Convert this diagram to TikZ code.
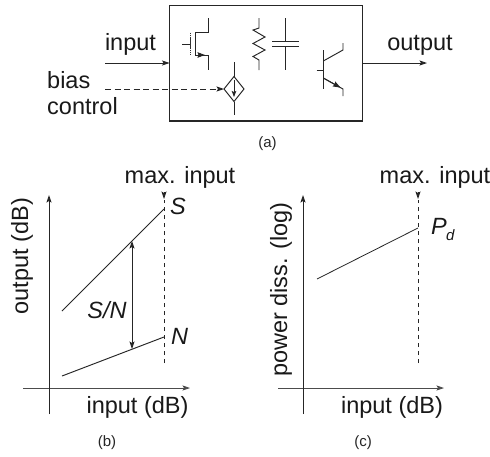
\documentclass[tikz,border=0pt]{standalone}
\usepackage{fontspec}
\setmainfont{Liberation Sans}
\usetikzlibrary{arrows.meta,shapes.geometric}
\tikzset{
  wire/.style={line width=0.95pt,draw=black!85},
  thin wire/.style={line width=0.8pt,draw=black!85},
  tip/.tip={Stealth[length=7.5pt,width=5pt,inset=1.5pt]},
  arr/.style={wire,-tip},
  xaxis/.style={line width=0.8pt,draw=black!70,-tip},
  dashwire/.style={line width=0.95pt,draw=black!85,dash pattern=on 4.5pt off 3.5pt},
  lab/.style={inner sep=0pt,anchor=base,font=\fontsize{23.5}{26}\selectfont,text=black!90},
  sublab/.style={inner sep=0pt,anchor=base,font=\fontsize{15}{17}\selectfont,text=black!85},
}
\begin{document}
\begin{tikzpicture}[x=1pt,y=-1pt]
\useasboundingbox (0,0) rectangle (490,456);
\fill[white] (0,0) rectangle (490,456);
% (a) block
\node[draw=black!85,line width=1.1pt,minimum width=192.5pt,minimum height=115.5pt,inner sep=0pt,outer sep=0pt] (block) at (265.8,63.2) {};
\coordinate (inS) at (105,63);
\coordinate (inE) at (block.west |- inS);
\coordinate (outS) at (block.east |- inS);
\coordinate (outE) at (427,63);
\draw[arr] (inS) -- (inE);
\draw[arr] (outS) -- (outE);
\node[lab] (linput) at (130.5,50) {input};
\node[lab] (loutput) at (420,50) {output};
\node[lab,anchor=base west] (lbias) at (47,88) {bias};
\node[lab,anchor=base west] (lcontrol) at (47,114) {control};
% controlled source
\node[draw=black!85,line width=0.95pt,shape=diamond,minimum width=20pt,minimum height=25pt,inner sep=0pt,outer sep=0pt,aspect=0.8] (src) at (234,89) {};
\coordinate (bS) at (105,89);
\draw[wire,dash pattern=on 6pt off 3.5pt,-tip] (bS) -- (src.west);
\coordinate (srcT) at (234,62);
\coordinate (srcB) at (234,115);
\draw[wire] (srcT) -- (src.north);
\draw[wire] (src.south) -- (srcB);
\draw[thin wire,-{Stealth[length=6pt,width=4.5pt,inset=1pt]}] (234,80) -- (234,97);
% MOSFET
\draw[wire] (182,44) -- (190.7,44);
\draw[line width=0.9pt,draw=black!80,dash pattern=on 1.5pt off .4pt] (190.7,32.7) -- (190.7,55);
\draw[wire] (208,18) -- (208,32.7) -- (195,32.7) -- (195,55) -- (208,55) -- (208,70);
\draw[wire,-{Stealth[length=7.5pt,width=5.5pt,inset=1pt]}] (195,55) -- (205,55);
% Resistor
\draw[wire,line join=miter] (259,18) -- (259,28) -- (253,30) -- (265,37) -- (253,43.5) -- (265,50) -- (253,56.5) -- (259,60) -- (259,70);
% Capacitor
\draw[wire] (285,18) -- (285,41.7);
\draw[wire] (272,41.7) -- (298.5,41.7);
\draw[wire] (272,46.3) -- (298.5,46.3);
\draw[wire] (285,46.3) -- (285,70);
% BJT
\draw[wire] (323.3,50) -- (323.3,89);
\draw[wire] (316.5,70) -- (323.3,70);
\draw[wire] (323.3,61) -- (343,50) -- (343,43);
\draw[wire] (323.3,78) -- (343,89) -- (343,96);
\draw[wire,-{Stealth[length=7.5pt,width=5.5pt,inset=1pt]}] (323.3,78) -- (340.5,87.6);
\node[sublab] (capa) at (267.5,147) {(a)};
% (b) plot
\coordinate (bxL) at (23,388); \coordinate (bxR) at (190,388);
\coordinate (byB) at (49,414); \coordinate (byT) at (49,195);
\draw[xaxis] (bxL) -- (bxR);
\draw[arr] (byB) -- (byT);
\coordinate (bdB) at (164,363); \coordinate (bdT) at (164,192);
\draw[dashwire] (bdB) -- (164,200);
\draw[wire,-tip] (bdT) -- (164,199);
\coordinate (sA) at (62,311); \coordinate (sB) at (164,209);
\coordinate (nA) at (62,376); \coordinate (nB) at (164,337);
\draw[thin wire] (sA) -- (sB);
\draw[wire] (nA) -- (nB);
\coordinate (snT) at (132,241); \coordinate (snB) at (132,349);
\draw[wire,tip-tip] (snT) -- (snB);
\node[lab] (bmax) at (180,183) {max. input};
\node[lab,anchor=base west,font=\fontsize{23.5}{26}\selectfont\itshape] (lS) at (170,214) {S};
\node[lab,anchor=base west,font=\fontsize{23.5}{26}\selectfont\itshape] (lN) at (171,344) {N};
\node[lab,font=\fontsize{23.5}{26}\selectfont\itshape] (lSN) at (107,318) {S/N};
\node[lab,rotate=90] (bylab) at (28,256) {output (dB)};
\node[lab] (bxlab) at (137.5,413) {input (dB)};
\node[sublab] (capb) at (107,446) {(b)};
% (c) plot
\coordinate (cxL) at (278,388); \coordinate (cxR) at (444,388);
\coordinate (cyB) at (303,414); \coordinate (cyT) at (303,195);
\draw[xaxis] (cxL) -- (cxR);
\draw[arr] (cyB) -- (cyT);
\coordinate (cdB) at (418,363); \coordinate (cdT) at (418,192);
\draw[dashwire] (cdB) -- (418,200);
\draw[wire,-tip] (cdT) -- (418,199);
\coordinate (pA) at (317,279); \coordinate (pB) at (418,228);
\draw[thin wire] (pA) -- (pB);
\node[lab] (cmax) at (435,183) {max. input};
\node[lab,anchor=base west,font=\fontsize{23.5}{26}\selectfont\itshape] (lP) at (431,234) {P};
\node[lab,anchor=base west,font=\fontsize{15}{17}\selectfont\itshape] (ld) at (446,240) {d};
\node[lab,rotate=90] (cylab) at (287,289.5) {power diss. (log)};
\node[lab] (cxlab) at (392,413) {input (dB)};
\node[sublab] (capc) at (363,446) {(c)};
\end{tikzpicture}
\end{document}
